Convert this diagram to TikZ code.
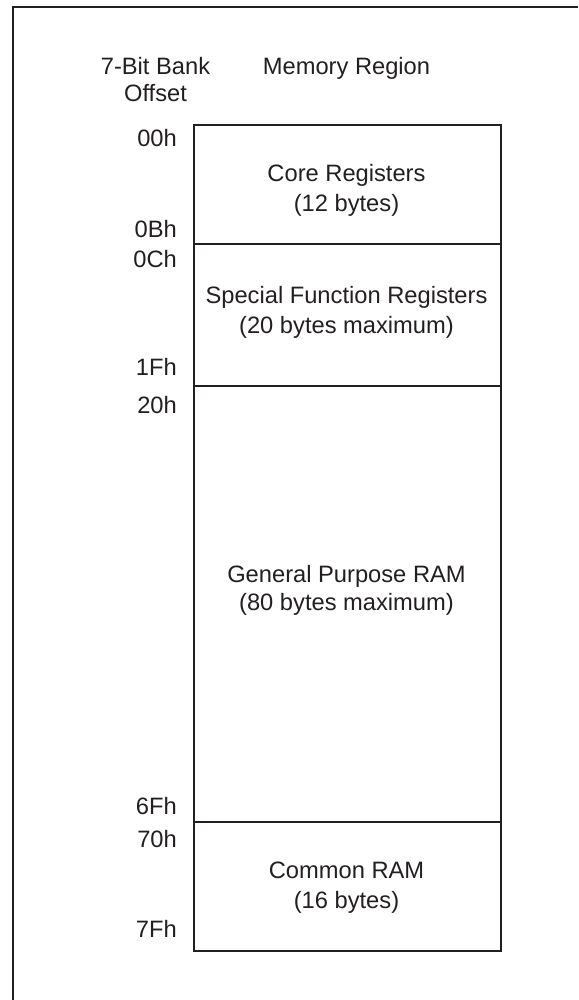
\documentclass[tikz,border=0pt]{standalone}
\usepackage{fontspec}
\setmainfont{Liberation Sans}
\definecolor{ink}{HTML}{231F20}
\begin{document}
\begin{tikzpicture}[x=1pt,y=-1pt,
  txt/.style={inner sep=0pt,anchor=base,text=ink,font=\fontsize{23.7}{28}\selectfont},
  off/.style={txt,anchor=base east},
  region/.style={draw=ink,line width=2pt,inner sep=0pt,minimum width=307pt,anchor=north west}]
\useasboundingbox (0,0) rectangle (578,1000);
% outer frame (cut by the page at right and bottom)
\coordinate (fbl) at (13,1000);
\coordinate (ftl) at (13,7);
\coordinate (ftr) at (578,7);
\draw[draw=ink,line width=2pt] (fbl) -- (ftl) -- (ftr);
% memory regions
\node[region,minimum height=119pt] (core) at (193,124) {};
\node[region,minimum height=142pt] (sfr) at (193,243) {};
\node[region,minimum height=436pt] (gpr) at (193,385) {};
\node[region,minimum height=129pt] (com) at (193,821) {};
% headers
\node[txt] (h1) at (155.5,75) {7-Bit Bank};
\node[txt] (h2) at (155.5,102) {Offset};
\node[txt] (h3) at (346.5,75) {Memory Region};
% region texts
\node[txt] (t1a) at (346.5,182) {Core Registers};
\node[txt] (t1b) at (346.5,212) {(12 bytes)};
\node[txt] (t2a) at (346.5,303) {Special Function Registers};
\node[txt] (t2b) at (346.5,333) {(20 bytes maximum)};
\node[txt] (t3a) at (346.5,582) {General Purpose RAM};
\node[txt] (t3b) at (346.5,610) {(80 bytes maximum)};
\node[txt] (t4a) at (346.5,878) {Common RAM};
\node[txt] (t4b) at (346.5,908) {(16 bytes)};
% offsets
\node[off] (o00) at (177,146.5) {00h};
\node[off] (o0B) at (177,237) {0Bh};
\node[off] (o0C) at (177,267) {0Ch};
\node[off] (o1F) at (177,375) {1Fh};
\node[off] (o20) at (177,413) {20h};
\node[off] (o6F) at (177,814) {6Fh};
\node[off] (o70) at (177,847) {70h};
\node[off] (o7F) at (177,937) {7Fh};
\end{tikzpicture}
\end{document}
